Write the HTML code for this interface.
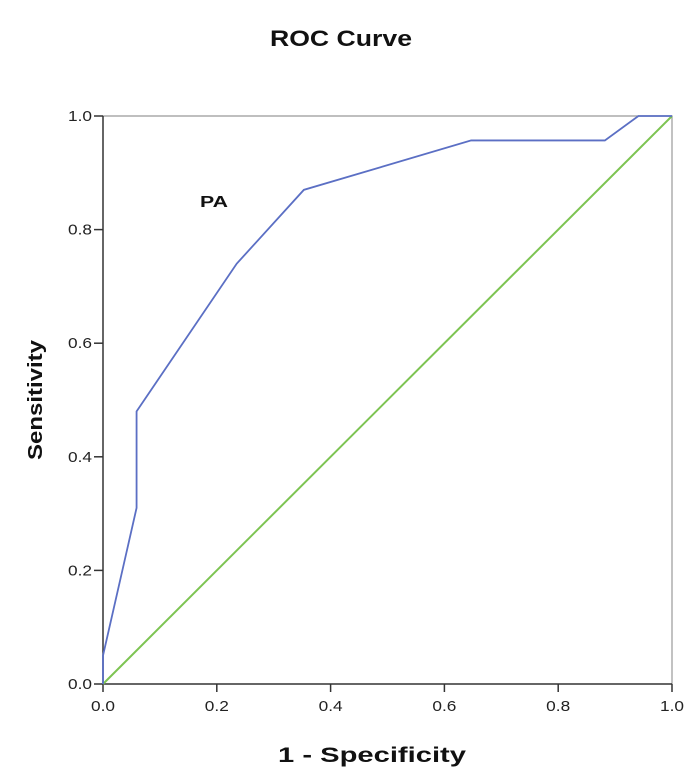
<!DOCTYPE html>
<html><head><meta charset="utf-8"><style>
body{margin:0;background:#fff;}
svg text{font-family:"Liberation Sans",Arial,sans-serif;}
</style></head><body>
<svg width="700" height="773" xmlns="http://www.w3.org/2000/svg">
<rect width="700" height="773" fill="#fff"/>
<text x="270" y="46" font-size="22" font-weight="bold" fill="#111" textLength="142" lengthAdjust="spacingAndGlyphs">ROC Curve</text>
<g id="plot"></g>
<text x="278" y="762" font-size="21" font-weight="bold" fill="#111" textLength="188" lengthAdjust="spacingAndGlyphs">1 - Specificity</text>
<text transform="translate(42,460) rotate(-90)" font-size="20" font-weight="bold" fill="#111" textLength="120" lengthAdjust="spacingAndGlyphs">Sensitivity</text>
<text x="200" y="207" font-size="16" font-weight="bold" fill="#111" textLength="28" lengthAdjust="spacingAndGlyphs">PA</text>
</svg>
<script>
const fpr = [0, 0, 0.059, 0.059, 0.235, 0.353, 0.647, 0.882, 0.941, 1];
const tpr = [0, 0.05, 0.31, 0.48, 0.74, 0.87, 0.957, 0.957, 1, 1];
const refX = [0, 1];
const refY = [0, 1];
const ticks = [0, 0.2, 0.4, 0.6, 0.8, 1.0];
const tickLabels = ["0.0", "0.2", "0.4", "0.6", "0.8", "1.0"];

const X0 = 103, X1 = 672, Y0 = 684, Y1 = 116;
const sx = v => X0 + v * (X1 - X0);
const sy = v => Y0 - v * (Y0 - Y1);
const NS = "http://www.w3.org/2000/svg";
const g = document.getElementById("plot");
function mk(tag, attrs) {
  const e = document.createElementNS(NS, tag);
  for (const k in attrs) e.setAttribute(k, attrs[k]);
  g.appendChild(e);
  return e;
}
let frame = mk("path", {d:`M${X0},${Y1}H${X1}V${Y0}`, fill:"none", stroke:"#999", "stroke-width":1.2});


let ax = mk("line", {x1:X0, y1:Y0, x2:X1, y2:Y0, stroke:"#333", "stroke-width":1.5});


let ay = mk("line", {x1:X0, y1:Y1, x2:X0, y2:Y0, stroke:"#333", "stroke-width":1.5});


ticks.forEach((t, i) => {
  let tx = mk("line", {x1:sx(t), y1:Y0, x2:sx(t), y2:Y0+8, stroke:"#333", "stroke-width":1.5});
  
  
  let lx = mk("text", {x:sx(t)-12, y:Y0+27, "font-size":15, fill:"#222", textLength:24, lengthAdjust:"spacingAndGlyphs"});
  lx.textContent = tickLabels[i];
  
  
  let ty = mk("line", {x1:X0-9, y1:sy(t), x2:X0, y2:sy(t), stroke:"#333", "stroke-width":1.5});
  
  
  let ly = mk("text", {x:X0-35, y:sy(t)+5, "font-size":15, fill:"#222", textLength:24, lengthAdjust:"spacingAndGlyphs"});
  ly.textContent = tickLabels[i];
  
  
});
let ref = mk("polyline", {points: refX.map((v,i)=>sx(v)+","+sy(refY[i])).join(" "), fill:"none", stroke:"#7dc452", "stroke-width":2});


let roc = mk("polyline", {points: fpr.map((v,i)=>sx(v)+","+sy(tpr[i])).join(" "), fill:"none", stroke:"#5b6fc4", "stroke-width":1.8});


</script>
</body></html>
